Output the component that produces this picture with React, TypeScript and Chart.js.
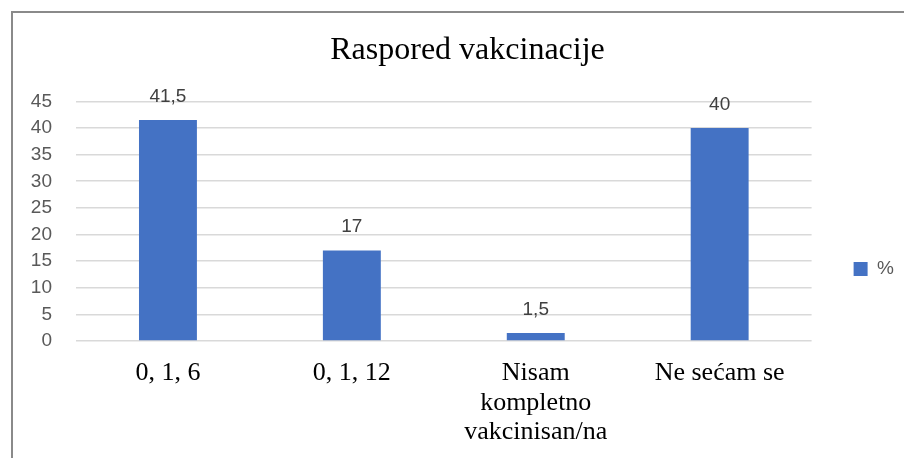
import React, { useEffect, useRef } from "react";
import { Chart, registerables } from "chart.js";

Chart.register(...registerables);

const chartTitle = "Raspored vakcinacije";
const categories: (string | string[])[] = [
  "0, 1, 6",
  "0, 1, 12",
  ["Nisam", "kompletno", "vakcinisan/na"],
  "Ne sećam se",
];
const seriesLabel = "%";
const seriesValues = [41.5, 17, 1.5, 40];
const yMin = 0;
const yMax = 45;
const yStep = 5;

const BAR_COLOR = "#4472c4";

const dataLabelPlugin = {
  id: "barValueLabels",
  afterDatasetsDraw(chart: any) {
    const ctx = chart.ctx;
    ctx.save();
    ctx.font = "19px 'Liberation Sans', sans-serif";
    ctx.fillStyle = "#404040";
    ctx.textAlign = "center";
    ctx.textBaseline = "alphabetic";
    chart.data.datasets.forEach((ds: any, di: number) => {
      const meta = chart.getDatasetMeta(di);
      meta.data.forEach((bar: any, i: number) => {
        const v = ds.data[i];
        const txt = String(v).replace(".", ",");
        ctx.fillText(txt, bar.x, bar.y - 18);
      });
    });
    ctx.restore();
  },
};

export default function App() {
  const canvasRef = useRef<HTMLCanvasElement | null>(null);

  useEffect(() => {
    if (!canvasRef.current) return;
    const chart = new Chart(canvasRef.current, {
      type: "bar",
      data: {
        labels: categories,
        datasets: [
          {
            label: seriesLabel,
            data: seriesValues,
            backgroundColor: BAR_COLOR,
            borderWidth: 0,
            barPercentage: 0.315,
            categoryPercentage: 1,
          },
        ],
      },
      options: {
        responsive: false,
        animation: false,
        devicePixelRatio: 1,
        layout: { padding: { left: 18, right: 0, top: 0, bottom: 0 } },
        plugins: {
          title: {
            display: true,
            text: chartTitle,
            color: "#000000",
            font: { family: "'Liberation Serif', 'Times New Roman', serif", size: 32, weight: "normal", lineHeight: 1.2 },
            padding: { top: 18, bottom: 32 },
          },
          legend: {
            display: true,
            position: "right",
            align: "center",
            title: {
              display: true,
              text: "",
              font: { size: 10, lineHeight: 1 },
              padding: { top: 57, bottom: 0 },
            },
            labels: {
              boxWidth: 14,
              boxHeight: 14,
              padding: 42,
              color: "#595959",
              font: { family: "'Liberation Sans', sans-serif", size: 19 },
            },
          },
          tooltip: { enabled: false },
        },
        scales: {
          x: {
            grid: { display: false, drawTicks: false },
            border: { display: false },
            afterFit: (scale: any) => {
              scale.height = 117;
            },
            ticks: {
              color: "#000000",
              padding: 18,
              maxRotation: 0,
              autoSkip: false,
              font: { family: "'Liberation Serif', 'Times New Roman', serif", size: 26, lineHeight: 1.12 },
            },
          },
          y: {
            min: yMin,
            max: yMax,
            grid: { color: "#d9d9d9", lineWidth: 1.6, drawTicks: false },
            border: { display: false },
            afterFit: (scale: any) => {
              scale.width = 45;
            },
            ticks: {
              stepSize: yStep,
              autoSkip: false,
              color: "#595959",
              padding: 24,
              font: { family: "'Liberation Sans', sans-serif", size: 19, lineHeight: 1 },
            },
          },
        },
      },
      plugins: [dataLabelPlugin],
    });
    return () => chart.destroy();
  }, []);

  return (
    <div
      style={{
        position: "absolute",
        left: 11,
        top: 11,
        width: 893,
        height: 447,
        boxSizing: "border-box",
        borderLeft: "2px solid #8a8a8a",
        borderTop: "2px solid #8a8a8a",
        overflow: "hidden",
        background: "#ffffff",
      }}
    >
      <canvas ref={canvasRef} width={891} height={445} style={{ display: "block", width: 891, height: 445 }} />
    </div>
  );
}
